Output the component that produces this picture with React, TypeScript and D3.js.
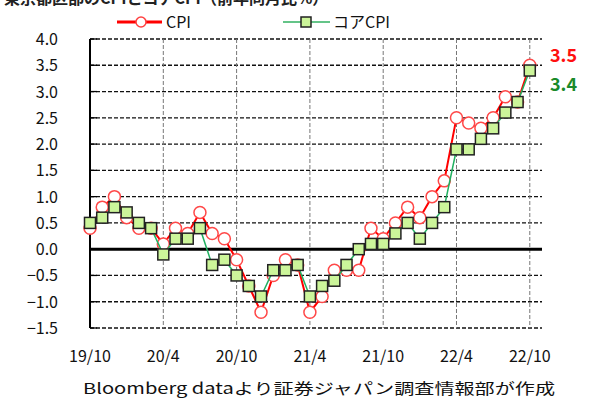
import React from "react";
import * as d3 from "d3";

// 東京都区部 CPI / コアCPI, 2019/10 .. 2022/10 (前年同月比 %)
const months = d3.range(37);
const cpi = [
  0.4, 0.8, 1.0, 0.6, 0.4, 0.4, 0.1, 0.4, 0.3, 0.7, 0.3, 0.2, -0.2, -0.7, -1.2,
  -0.5, -0.2, -0.3, -1.2, -0.9, -0.4, -0.4, -0.4, 0.4, 0.2, 0.5, 0.8, 0.6, 1.0,
  1.3, 2.5, 2.4, 2.3, 2.5, 2.9, 2.8, 3.5,
];
const coreCpi = [
  0.5, 0.6, 0.8, 0.7, 0.5, 0.4, -0.1, 0.2, 0.2, 0.4, -0.3, -0.2, -0.5, -0.7,
  -0.9, -0.4, -0.4, -0.3, -0.9, -0.7, -0.6, -0.3, 0.0, 0.1, 0.1, 0.3, 0.5, 0.2,
  0.5, 0.8, 1.9, 1.9, 2.1, 2.3, 2.6, 2.8, 3.4,
];
const xTickIdx = [0, 6, 12, 18, 24, 30, 36];
const xTickLabels = ["19/10", "20/4", "20/10", "21/4", "21/10", "22/4", "22/10"];
const yTicks = d3.range(-1.5, 4.01, 0.5);

const W = 604;
const H = 401;
const font = "'Noto Sans CJK JP', 'DejaVu Sans', sans-serif";

const App = () => {
  const x = d3.scaleLinear().domain([0, 37]).range([90, 542]);
  const y = d3.scaleLinear().domain([-1.5, 4]).range([328, 39]);

  const line = d3
    .line<number>()
    .x((d, i) => x(months[i]))
    .y((d) => y(d));

  const last = months.length - 1;

  return (
    <svg
      width={W}
      height={H}
      style={{ position: "absolute", left: 0, top: 0, background: "#fff" }}
      fontFamily={font}
    >
      {/* title, cut off at the top */}
      <text x={4} y={4} fontSize={16} fontWeight="bold" fill="#222">
        東京都区部のCPIとコアCPI（前年同月比%）
      </text>

      {/* legend */}
      <line x1={117} x2={162} y1={22} y2={22} stroke="#ff0000" strokeWidth={3} />
      <circle cx={141} cy={22} r={5} fill="#fff" stroke="#ff4040" strokeWidth={1.5} />
      <text x={166} y={28} fontSize={16} fill="#111">CPI</text>
      <line x1={283} x2={330} y1={22} y2={22} stroke="#30b060" strokeWidth={1.5} />
      <rect x={301} y={17} width={10} height={10} fill="#ccf59a" stroke="#222" strokeWidth={1.5} />
      <text x={333} y={28} fontSize={16} fill="#111">コアCPI</text>

      {/* horizontal grid */}
      {yTicks.map((t) => (
        <g key={t}>
          {Math.abs(t) > 1e-9 && (
            <line
              x1={x(0)}
              x2={x(37)}
              y1={y(t)}
              y2={y(t)}
              stroke="#111"
              strokeWidth={1.3}
              strokeDasharray="4,2"
            />
          )}
          <line x1={x(0)} x2={x(0) + 7} y1={y(t)} y2={y(t)} stroke="#000" strokeWidth={1.3} />
          <text x={58} y={y(t) + 6} textAnchor="end" fontSize={16} fill="#111">
            {t.toFixed(1).replace("-", "\u2212")}
          </text>
        </g>
      ))}

      {/* vertical grid */}
      {xTickIdx.slice(1).map((m) => (
        <line
          key={m}
          x1={x(m)}
          x2={x(m)}
          y1={y(4)}
          y2={y(-1.5)}
          stroke="#777"
          strokeWidth={1}
          strokeDasharray="4,2"
        />
      ))}

      {/* zero line and left axis */}
      <line x1={x(0)} x2={x(37)} y1={y(0)} y2={y(0)} stroke="#000" strokeWidth={3} />
      <line x1={x(0)} x2={x(0)} y1={y(4)} y2={y(-1.5)} stroke="#000" strokeWidth={2} />

      {/* x labels */}
      {xTickIdx.map((m, i) => (
        <text key={m} x={x(m)} y={362} textAnchor="middle" fontSize={16} fill="#111">
          {xTickLabels[i]}
        </text>
      ))}

      {/* CPI */}
      <path d={line(cpi) || ""} fill="none" stroke="#ff0000" strokeWidth={2} />
      {cpi.map((v, i) => (
        <circle
          key={i}
          cx={x(months[i])}
          cy={y(v)}
          r={6}
          fill="#fff"
          stroke="#ff4848"
          strokeWidth={1.5}
        />
      ))}

      {/* core CPI */}
      <path d={line(coreCpi) || ""} fill="none" stroke="#20b060" strokeWidth={1.5} />
      {coreCpi.map((v, i) => (
        <rect
          key={i}
          x={x(months[i]) - 5.5}
          y={y(v) - 5.5}
          width={11}
          height={11}
          fill="#ccf59a"
          stroke="#222"
          strokeWidth={1.5}
        />
      ))}

      {/* latest values */}
      <text x={550} y={62} fontSize={18} fontWeight="bold" fill="#ff1010">
        {cpi[last].toFixed(1)}
      </text>
      <text x={550} y={91} fontSize={18} fontWeight="bold" fill="#1a8a2a">
        {coreCpi[last].toFixed(1)}
      </text>

      {/* source */}
      <text
        x={83}
        y={394}
        fontSize={15}
        fill="#111"
        textLength={472}
        lengthAdjust="spacingAndGlyphs"
      >
        Bloomberg dataより証券ジャパン調査情報部が作成
      </text>
    </svg>
  );
};

export default App;
